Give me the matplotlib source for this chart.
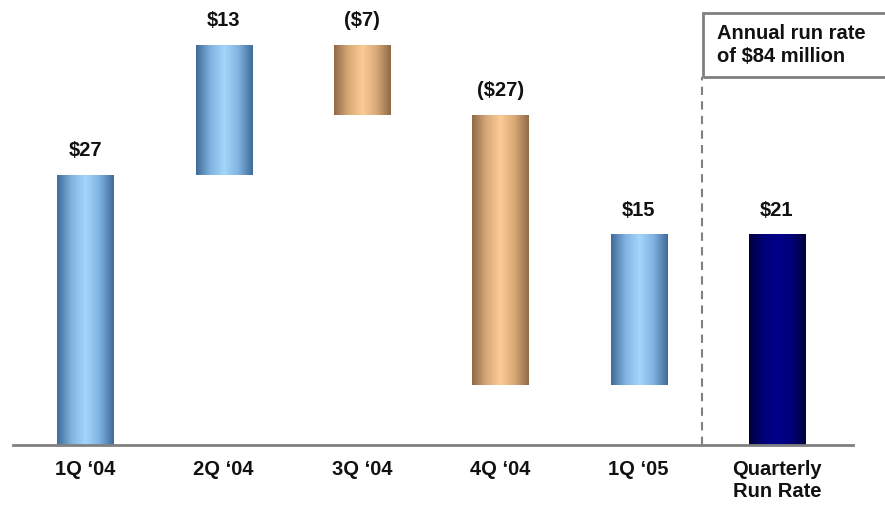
import matplotlib
matplotlib.use("Agg")
import matplotlib.pyplot as plt
import numpy as np
from matplotlib.colors import LinearSegmentedColormap
from matplotlib.patches import Rectangle

categories = ["1Q \u201804", "2Q \u201804", "3Q \u201804", "4Q \u201804", "1Q \u201805", "Quarterly\nRun Rate"]
changes = [27, 13, -7, -27, 15]
run_rate = 21
labels = ["$27", "$13", "($7)", "($27)", "$15", "$21"]
note = "Annual run rate\nof $84 million"

plt.rcParams['font.family'] = ['Liberation Sans', 'DejaVu Sans']

fig = plt.figure(figsize=(8.85, 5.07), dpi=100)
ax = fig.add_axes([13/885, 1-445/507, 840/885, 440/507])
ax.set_xlim(-0.522, 5.55)
ax.set_ylim(0, 44)

blue = LinearSegmentedColormap.from_list("b", ["#3f6a98", "#7fb2e0", "#a4d6fb", "#7fb2e0", "#3f6a98"])
tan = LinearSegmentedColormap.from_list("t", ["#8e6a46", "#d8a878", "#fbcc96", "#d8a878", "#8e6a46"])
navy = LinearSegmentedColormap.from_list("n", ["#00003c", "#000078", "#00008c", "#000078", "#00003c"])

grad = np.linspace(0, 1, 256).reshape(1, -1)
width = 0.405

def gbar(x, bottom, height, cmap):
    b = ax.bar(x, height, width, bottom=bottom, color="none", edgecolor="none")[0]
    x0, y0 = b.get_x(), b.get_y()
    w, h = b.get_width(), b.get_height()
    ax.imshow(grad, extent=(x0, x0 + w, y0, y0 + h), cmap=cmap, aspect="auto", zorder=2)

cum = 0
tops = []
for i, c in enumerate(changes):
    if i == 0:
        bottom, height = 0, c
    elif c >= 0:
        bottom, height = cum, c
    else:
        bottom, height = cum + c, -c
    cmap = blue if c >= 0 else tan
    gbar(i, bottom, height, cmap)
    tops.append(bottom + height)
    cum += c

gbar(5, 0, run_rate, navy)
tops.append(run_rate)

for i, (t, lab) in enumerate(zip(tops, labels)):
    ax.text(i, t + 1.9, lab, ha="center", va="baseline", fontsize=14.5, fontweight="bold", color="#111111")

ax.set_xticks(range(len(categories)))
ax.set_xticklabels(categories, fontsize=14.5, fontweight="bold", color="#111111", linespacing=1.2)
ax.tick_params(axis="x", length=0, pad=11)
ax.set_yticks([])
for s in ["top", "right", "left"]:
    ax.spines[s].set_visible(False)
ax.spines["bottom"].set_color("#808080")
ax.spines["bottom"].set_linewidth(2)

ax.plot([4.46, 4.46], [0, 36.8], ls=(0, (4, 3)), color="#808080", lw=1.5, clip_on=False)

fig.text(717/885, 1-45/507, note, ha="left", va="center", fontsize=14.5, fontweight="bold",
         color="#111111", linespacing=1.3)
fig.patches.append(Rectangle((703/885, 1-77/507), 190/885, 64/507, transform=fig.transFigure,
                             fill=False, edgecolor="#808080", lw=2))

fig.savefig("out.png", dpi=100)
